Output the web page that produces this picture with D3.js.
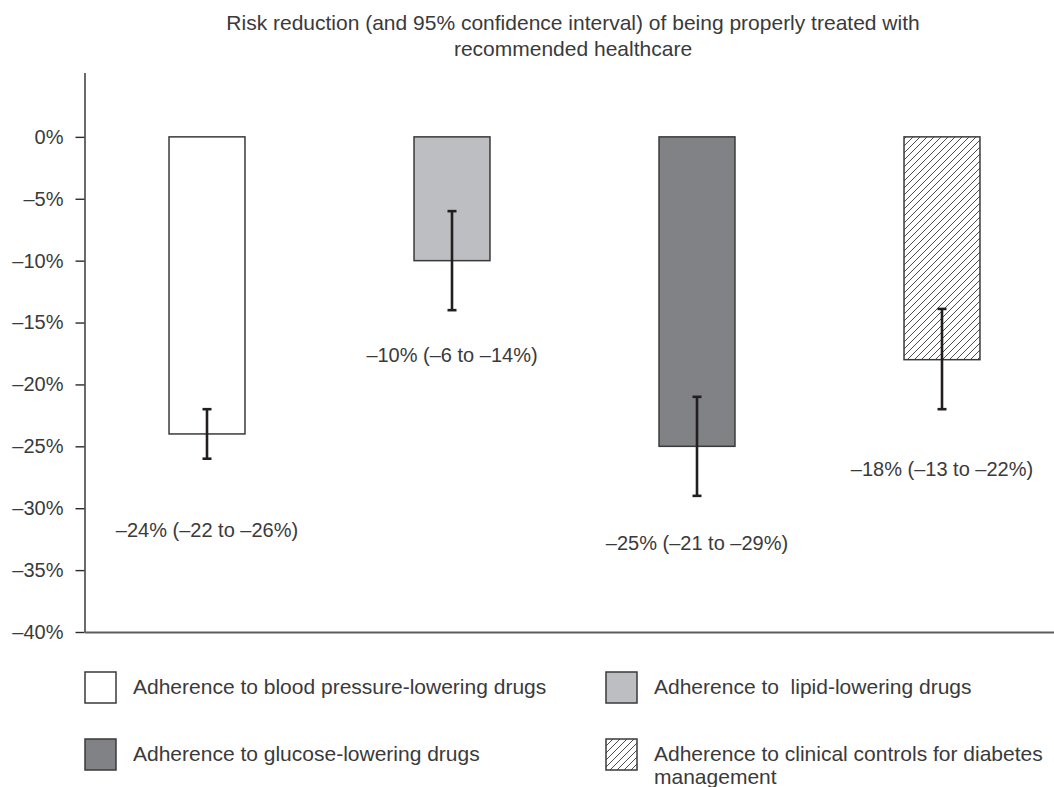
<!DOCTYPE html>
<html>
<head>
<meta charset="utf-8">
<script src="https://cdn.jsdelivr.net/npm/d3@7"></script>
<style>
  body { margin: 0; background: #fff; }
  svg text { font-family: "Liberation Sans", Arial, sans-serif; fill: #3a3a3a; white-space: pre; }
</style>
</head>
<body>
<div id="chart"></div>
<script>
// chart data
var categories = ["bp", "lipid", "glucose", "clinical"];
var values = [-24, -10, -25, -18];
var ciUpper = [-22, -6, -21, -13.9];
var ciLower = [-26, -14, -29, -22];
var barLabels = ["–24% (–22 to –26%)", "–10% (–6 to –14%)", "–25% (–21 to –29%)", "–18% (–13 to –22%)"];
var labelAt = [-32.3, -18.2, -33.4, -27.4]; // where each label sits, in axis units
var fills = ["#ffffff", "#bdbec1", "#818285", "url(#hatch)"];
var legendLines = [
  ["Adherence to blood pressure-lowering drugs"],
  ["Adherence to  lipid-lowering drugs"],
  ["Adherence to glucose-lowering drugs"],
  ["Adherence to clinical controls for diabetes", "management"]
];
var yTicks = [0, -5, -10, -15, -20, -25, -30, -35, -40];
var titleLines = ["Risk reduction (and 95% confidence interval) of being properly treated with", "recommended healthcare"];

var width = 1054, height = 787;

var svg = d3.select("#chart").append("svg")
  .attr("width", width).attr("height", height);

// hatch pattern for the last bar
var pat = svg.append("defs").append("pattern")
  .attr("id", "hatch")
  .attr("patternUnits", "userSpaceOnUse")
  .attr("width", 7).attr("height", 7);
pat.append("rect").attr("width", 7).attr("height", 7).attr("fill", "#fff");
pat.append("path")
  .attr("d", "M-1,1 l2,-2 M0,7 l7,-7 M6,8 l2,-2")
  .attr("stroke", "#3a3a3a").attr("stroke-width", 0.9);

var x = d3.scaleBand().domain(categories).range([84.5, 1064.5])
  .paddingInner(0.69).paddingOuter(0.345);
var y = d3.scaleLinear().domain([-40, 5.2]).range([632, 72.5]);

// title
svg.append("text")
  .attr("text-anchor", "middle")
  .attr("font-size", 21)
  .selectAll("tspan").data(titleLines).enter().append("tspan")
  .attr("x", 573).attr("y", function (d, i) { return 30 + i * 26; })
  .text(function (d) { return d; });

// y axis
var yAxis = d3.axisLeft(y).tickValues(yTicks).tickSize(9).tickSizeOuter(0).tickPadding(12)
  .tickFormat(function (d) { return (d < 0 ? "–" + Math.abs(d) : d) + "%"; });
var gy = svg.append("g").attr("transform", "translate(84.5,0)").call(yAxis);
gy.selectAll("path, line").attr("stroke", "#2b2b2b").attr("stroke-width", 1.4);
gy.selectAll("text").attr("font-size", 20).attr("font-family", "Liberation Sans, Arial, sans-serif").attr("fill", "#3a3a3a");

// bars
svg.selectAll(".bar").data(categories).enter().append("rect")
  .attr("class", "bar")
  .attr("x", function (d) { return x(d); })
  .attr("y", y(0))
  .attr("width", x.bandwidth())
  .attr("height", function (d, i) { return y(values[i]) - y(0); })
  .attr("fill", function (d, i) { return fills[i]; })
  .attr("stroke", "#3a3a3a").attr("stroke-width", 1.5);

// error bars
var eb = svg.selectAll(".err").data(categories).enter().append("g")
  .attr("class", "err")
  .attr("stroke", "#231f20").attr("stroke-width", 2.6);
eb.append("line")
  .attr("x1", function (d) { return x(d) + x.bandwidth() / 2; })
  .attr("x2", function (d) { return x(d) + x.bandwidth() / 2; })
  .attr("y1", function (d, i) { return y(ciUpper[i]); })
  .attr("y2", function (d, i) { return y(ciLower[i]); });
[ciUpper, ciLower].forEach(function (arr) {
  eb.append("line")
    .attr("x1", function (d) { return x(d) + x.bandwidth() / 2 - 4.5; })
    .attr("x2", function (d) { return x(d) + x.bandwidth() / 2 + 4.5; })
    .attr("y1", function (d, i) { return y(arr[i]); })
    .attr("y2", function (d, i) { return y(arr[i]); });
});

// bottom axis line
var xAxis = d3.axisBottom(x).tickSize(0).tickFormat("").tickSizeOuter(0);
var gx = svg.append("g").attr("transform", "translate(0," + y(-40) + ")").call(xAxis);
gx.select("path").attr("stroke", "#5e5e5e").attr("stroke-width", 2);

// value labels
svg.selectAll(".vlab").data(categories).enter().append("text")
  .attr("class", "vlab")
  .attr("text-anchor", "middle")
  .attr("font-size", 20)
  .attr("x", function (d) { return x(d) + x.bandwidth() / 2; })
  .attr("y", function (d, i) { return y(labelAt[i]); })
  .text(function (d, i) { return barLabels[i]; });

// legend (two columns, two rows)
var leg = svg.selectAll(".leg").data(categories).enter().append("g")
  .attr("class", "leg")
  .attr("transform", function (d, i) {
    return "translate(" + (i % 2 === 0 ? 85 : 606) + "," + (i < 2 ? 672 : 739) + ")";
  });
leg.append("rect")
  .attr("width", 31).attr("height", 31)
  .attr("fill", function (d, i) { return fills[i]; })
  .attr("stroke", "#3a3a3a").attr("stroke-width", 1.5);
leg.append("text")
  .attr("font-size", 21)
  .selectAll("tspan").data(function (d, i) { return legendLines[i]; }).enter().append("tspan")
  .attr("x", 48).attr("y", function (d, i) { return 21.5 + i * 23; })
  .text(function (d) { return d; });
</script>
</body>
</html>
